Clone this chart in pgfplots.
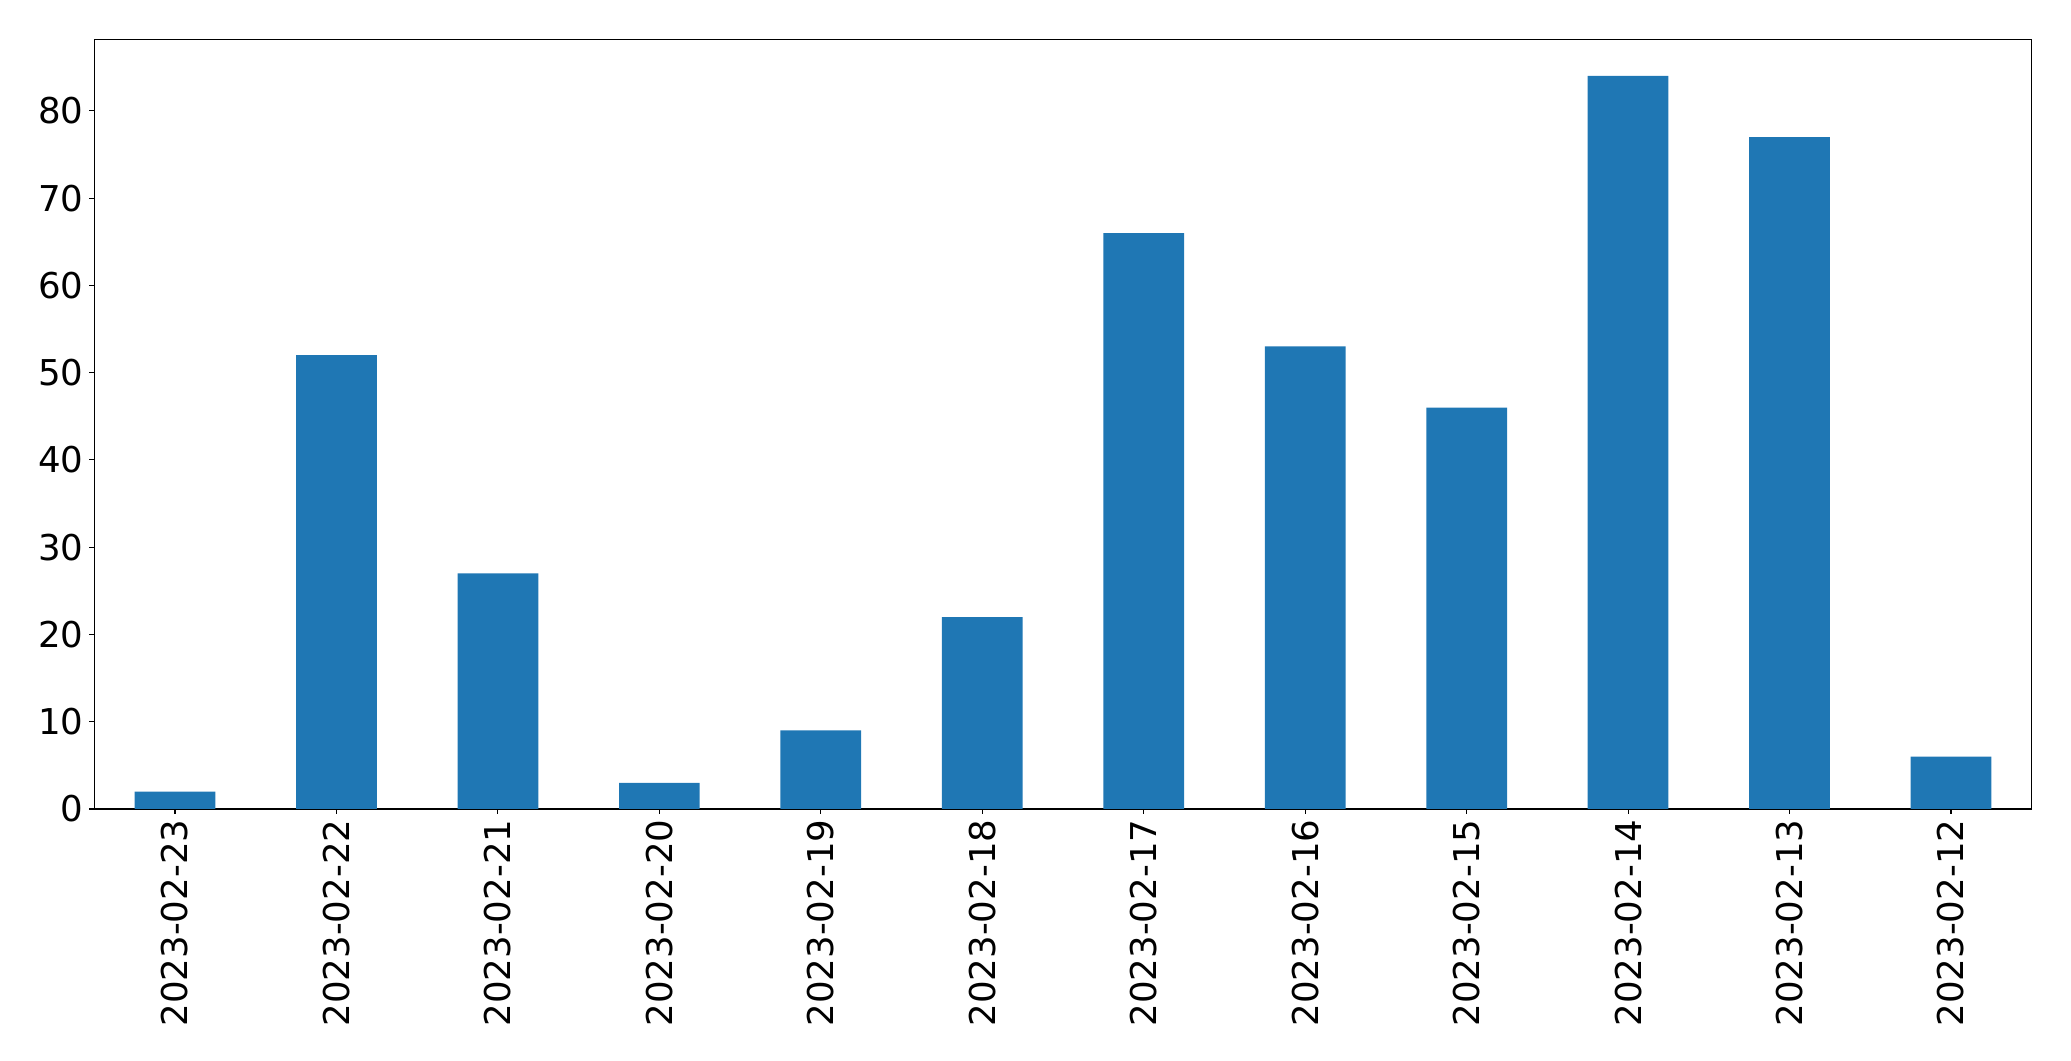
\documentclass[border=0pt]{standalone}
\usepackage{pgfplots}
\pgfplotsset{compat=1.18}
\usepackage{fontspec}
\setmainfont{DejaVu Sans}
\definecolor{mplblue}{HTML}{1F77B4}
\begin{document}
\begin{tikzpicture}
\begin{axis}[
  name=ax,
  scale only axis,
  width=19.374in, height=7.697in,
  xmin=-0.5, xmax=11.5, ymin=0, ymax=88.2,
  ybar, bar width=0.5, bar shift=0pt,
  xtick={0,1,2,3,4,5,6,7,8,9,10,11},
  xticklabels={2023-02-23,2023-02-22,2023-02-21,2023-02-20,2023-02-19,2023-02-18,2023-02-17,2023-02-16,2023-02-15,2023-02-14,2023-02-13,2023-02-12},
  ytick={0,10,20,30,40,50,60,70,80},
  tick align=outside,
  major tick length=3.5bp,
  tick style={black, line width=0.8bp},
  axis line style={line width=0.8bp},
  xtick pos=bottom, ytick pos=left,
  /pgf/number format/assume math mode=true,
  tick label style={font=\fontsize{25.7}{30}\selectfont},
  x tick label style={rotate=90, anchor=east, inner sep=0pt, xshift=-4bp},
  y tick label style={anchor=east, inner sep=0pt, xshift=-4bp},
  axis on top=false,
]
\addplot[fill=mplblue, draw=none] coordinates {
(0,2) (1,52) (2,27) (3,3) (4,9) (5,22) (6,66) (7,53) (8,46) (9,84) (10,77) (11,6)
};
\end{axis}
\pgfresetboundingbox
\path ([xshift=-0.943in,yshift=-2.52in]ax.south west) rectangle ([xshift=0.393in,yshift=0.393in]ax.north east);
\end{tikzpicture}
\end{document}
